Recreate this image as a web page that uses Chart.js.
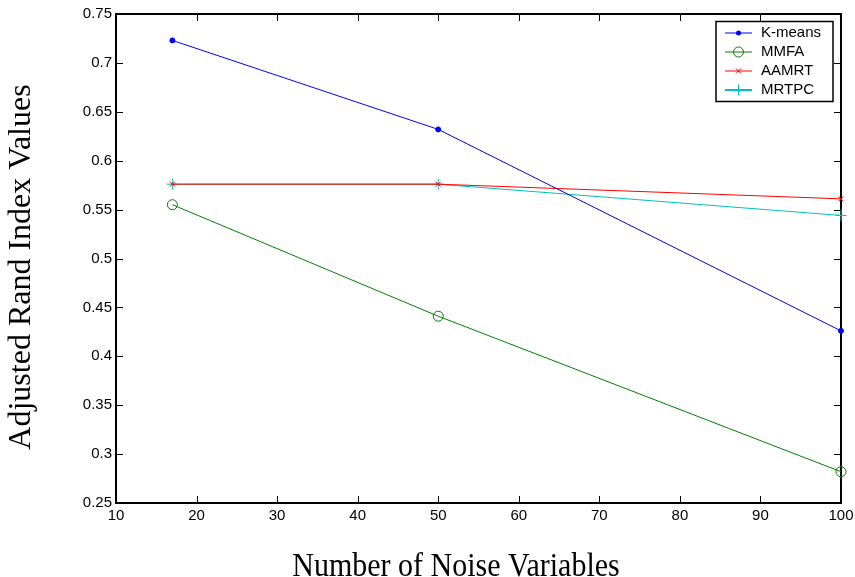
<!DOCTYPE html>
<html>
<head>
<meta charset="utf-8">
<script src="https://cdn.jsdelivr.net/npm/chart.js@4/dist/chart.umd.min.js"></script>
<style>
  html, body { margin: 0; padding: 0; background: #fff; }
  canvas { display: block; }
</style>
</head>
<body>
<canvas id="chart" width="855" height="577"></canvas>
<script>
// Number of noise variables added to the data
const noiseVariables = [17, 50, 100];

// Adjusted Rand index for each method
const kmeansARI = [0.723, 0.632, 0.426];
const mmfaARI   = [0.555, 0.441, 0.282];
const aamrtARI  = [0.576, 0.576, 0.561];
const mrtpcARI  = [0.576, 0.576, 0.544];

const seriesNames = ['K-means', 'MMFA', 'AAMRT', 'MRTPC'];

// Axis ticks
const xTickValues = [10, 20, 30, 40, 50, 60, 70, 80, 90, 100];
const yTickValues = [0.25, 0.3, 0.35, 0.4, 0.45, 0.5, 0.55, 0.6, 0.65, 0.7, 0.75];

const xTitle = 'Number of Noise Variables';
const yTitle = 'Adjusted Rand Index Values';

const SANS = '"Liberation Sans", Arial, sans-serif';
const SERIF = '"Liberation Serif", "Times New Roman", serif';

const toPoints = vals => noiseVariables.map((x, i) => ({ x: x, y: vals[i] }));

const styles = [
  { color: '#0000ff', pointStyle: 'circle',   radius: 2.5, filled: true  },
  { color: '#008000', pointStyle: 'circle',   radius: 5,   filled: false },
  { color: '#ff0000', pointStyle: 'crossRot', radius: 3.5, filled: false },
  { color: '#00bfbf', pointStyle: 'cross',    radius: 5.5, filled: false }
];
const seriesValues = [kmeansARI, mmfaARI, aamrtARI, mrtpcARI];

const datasets = seriesNames.map((name, i) => {
  const s = styles[i];
  return {
    label: name,
    data: toPoints(seriesValues[i]),
    borderColor: s.color,
    backgroundColor: s.filled ? s.color : 'rgba(0,0,0,0)',
    borderWidth: 1,
    pointStyle: s.pointStyle,
    pointRadius: s.radius,
    pointHoverRadius: s.radius,
    pointBorderColor: s.color,
    pointBackgroundColor: s.filled ? s.color : 'rgba(0,0,0,0)',
    pointBorderWidth: 1,
    tension: 0,
    fill: false,
    clip: false
  };
});

// Marker used in the legend samples
function drawMarker(ctx, s, x, y) {
  ctx.save();
  ctx.strokeStyle = s.color;
  ctx.fillStyle = s.color;
  ctx.lineWidth = 1;
  ctx.beginPath();
  const r = s.radius;
  if (s.pointStyle === 'circle') {
    ctx.arc(x, y, r, 0, Math.PI * 2);
    if (s.filled) ctx.fill(); else ctx.stroke();
  } else if (s.pointStyle === 'cross') {
    ctx.moveTo(x - r, y); ctx.lineTo(x + r, y);
    ctx.moveTo(x, y - r); ctx.lineTo(x, y + r);
    ctx.stroke();
  } else {
    const d = r * Math.SQRT1_2;
    ctx.moveTo(x - d, y - d); ctx.lineTo(x + d, y + d);
    ctx.moveTo(x - d, y + d); ctx.lineTo(x + d, y - d);
    ctx.stroke();
  }
  ctx.restore();
}

// Box around the axes with inward tick marks on all four sides
const framePlugin = {
  id: 'frame',
  beforeDatasetsDraw(chart) {
    const { ctx, chartArea: a, scales } = chart;
    const tl = 7;
    ctx.save();
    ctx.strokeStyle = '#000';
    ctx.lineWidth = 1;
    ctx.beginPath();
    scales.x.ticks.forEach(t => {
      const px = Math.round(scales.x.getPixelForValue(t.value)) + 0.5;
      ctx.moveTo(px, a.bottom); ctx.lineTo(px, a.bottom - tl);
      ctx.moveTo(px, a.top); ctx.lineTo(px, a.top + tl);
    });
    scales.y.ticks.forEach(t => {
      const py = Math.round(scales.y.getPixelForValue(t.value)) + 0.5;
      ctx.moveTo(a.left, py); ctx.lineTo(a.left + tl, py);
      ctx.moveTo(a.right, py); ctx.lineTo(a.right - tl, py);
    });
    ctx.stroke();
    ctx.lineWidth = 2;
    ctx.strokeRect(a.left, a.top, a.right - a.left, a.bottom - a.top);
    ctx.restore();
  }
};

// Legend box in the upper right corner of the axes
const legendPlugin = {
  id: 'boxLegend',
  afterDatasetsDraw(chart) {
    const { ctx, chartArea: a } = chart;
    const w = 117, h = 80;
    const bx = a.right - 8 - w, by = a.top + 7.5;
    ctx.save();
    ctx.fillStyle = '#fff';
    ctx.fillRect(bx, by, w, h);
    ctx.strokeStyle = '#000';
    ctx.lineWidth = 1.5;
    ctx.strokeRect(bx, by, w, h);
    ctx.font = '15px ' + SANS;
    ctx.textBaseline = 'middle';
    ctx.textAlign = 'left';
    seriesNames.forEach((name, i) => {
      const s = styles[i];
      const y = by + 11.5 + i * 19;
      const x0 = bx + 9, x1 = bx + 36;
      ctx.strokeStyle = s.color;
      ctx.lineWidth = s.pointStyle === 'cross' ? 2 : 1;
      ctx.beginPath();
      ctx.moveTo(x0, y); ctx.lineTo(x1, y);
      ctx.stroke();
      drawMarker(ctx, s, (x0 + x1) / 2, y);
      ctx.fillStyle = '#000';
      ctx.fillText(name, bx + 45, y);
    });
    ctx.restore();
  }
};

// Axis titles
const titlePlugin = {
  id: 'axisTitles',
  afterDraw(chart) {
    const { ctx } = chart;
    ctx.save();
    ctx.fillStyle = '#000';
    ctx.textAlign = 'center';
    ctx.textBaseline = 'alphabetic';
    ctx.font = '30px ' + SERIF;
    ctx.translate(456, 576);
    ctx.scale(1, 1.12);
    ctx.fillText(xTitle, 0, 0);
    ctx.restore();

    ctx.save();
    ctx.fillStyle = '#000';
    ctx.textAlign = 'center';
    ctx.textBaseline = 'middle';
    ctx.translate(22, 267);
    ctx.rotate(-Math.PI / 2);
    ctx.font = '32px ' + SERIF;
    ctx.fillText(yTitle, 0, 0);
    ctx.restore();
  }
};

const fmt = v => String(+Number(v).toFixed(2));

new Chart(document.getElementById('chart'), {
  type: 'line',
  data: { datasets: datasets },
  plugins: [framePlugin, legendPlugin, titlePlugin],
  options: {
    responsive: false,
    animation: false,
    devicePixelRatio: 1,
    layout: { padding: { top: 14, right: 14, left: 0, bottom: 0 } },
    plugins: {
      legend: { display: false },
      tooltip: { enabled: false },
      title: { display: false }
    },
    scales: {
      x: {
        type: 'linear',
        min: 10,
        max: 100,
        afterBuildTicks: s => { s.ticks = xTickValues.map(v => ({ value: v })); },
        afterFit: s => { s.height = 74; s.paddingLeft = 0; s.paddingRight = 0; },
        grid: { display: false, drawTicks: false },
        border: { display: false },
        ticks: {
          color: '#000',
          font: { family: SANS, size: 15 },
          padding: 4,
          maxRotation: 0,
          autoSkip: false,
          callback: v => fmt(v)
        }
      },
      y: {
        type: 'linear',
        min: 0.25,
        max: 0.75,
        afterBuildTicks: s => { s.ticks = yTickValues.map(v => ({ value: v })); },
        afterFit: s => { s.width = 116; s.paddingTop = 0; s.paddingBottom = 0; },
        grid: { display: false, drawTicks: false },
        border: { display: false },
        ticks: {
          color: '#000',
          font: { family: SANS, size: 15 },
          padding: 4,
          autoSkip: false,
          callback: v => fmt(v)
        }
      }
    }
  }
});
</script>
</body>
</html>
